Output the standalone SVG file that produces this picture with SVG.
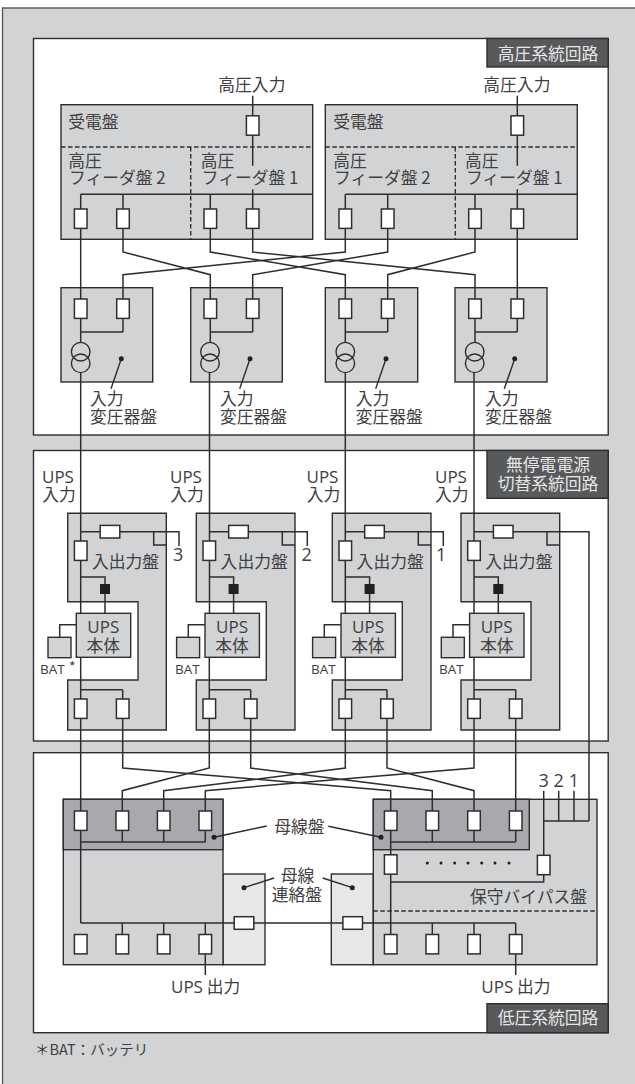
<svg xmlns="http://www.w3.org/2000/svg" width="635" height="1084" viewBox="0 0 635 1084">
<style>
text{font-family:"Noto Sans CJK JP","Noto Sans",sans-serif;font-size:16.8px;font-weight:400;fill:#404042}
.m{text-anchor:middle}
.h{fill:#e6e7e8}
.s{font-size:14px}
.u{font-family:"Open Sans","Noto Sans",sans-serif;font-size:17px}
.n{font-family:"Open Sans","Noto Sans",sans-serif;font-size:18px}
.sec{fill:#fff;stroke:#2e2e30;stroke-width:1.4}
.lab{fill:#58595b;stroke:#2e2e30;stroke-width:1.4}
.p{fill:#d1d3d4;stroke:#2e2e30;stroke-width:1.4}
.d{fill:#a7a9ac;stroke:#2e2e30;stroke-width:1.4}
.l{fill:#e6e7e8;stroke:#2e2e30;stroke-width:1.4}
.w{fill:none;stroke:#2e2e30;stroke-width:1.5}
.t{fill:none;stroke:#2e2e30;stroke-width:1.4}
.da{fill:none;stroke:#2e2e30;stroke-width:1.4;stroke-dasharray:4.5 2.5}
.b{fill:#fff;stroke:#2e2e30;stroke-width:1.5}
.k{fill:#231f20}
</style>
<defs>
<rect id="bv" class="b" x="-6.3" y="-9.7" width="12.6" height="19.4"/>
<rect id="bh" class="b" x="-9.8" y="-6.3" width="19.6" height="12.6"/>
</defs>
<rect x="0" y="0" width="635" height="1084" fill="#fff"/>
<rect x="2.5" y="8" width="640" height="1090" fill="#d1d3d4" stroke="#58595b" stroke-width="1.4"/>
<g id="section-high">
<rect class="sec" x="33.5" y="38.5" width="574.7" height="396.5"/>
<rect class="lab" x="487" y="38.5" width="121.2" height="28.5"/>
<text class="h m" x="548" y="59.5">高圧系統回路</text>
</g>
<g id="section-ups">
<rect class="sec" x="33.5" y="450.5" width="574.7" height="290.5"/>
<rect class="lab" x="487" y="450.5" width="121.2" height="47.8"/>
<text class="h m" x="548" y="471">無停電電源</text>
<text class="h m" x="548" y="490">切替系統回路</text>
</g>
<g id="section-low">
<rect class="sec" x="33.5" y="752.7" width="574.7" height="280"/>
<rect class="lab" x="487" y="1003.7" width="121.2" height="29"/>
<text class="h m" x="548" y="1024">低圧系統回路</text>
</g>
<g id="panel-rx-a">
<rect class="p" x="61" y="104.7" width="251.7" height="134.6"/>
<path class="da" d="M61 147H312.7M190.7 147V239.3"/>
<text x="68.3" y="127.7">受電盤</text>
<text x="68.3" y="166.7">高圧</text>
<text x="69" y="184">フィーダ盤 2</text>
<text x="200.7" y="166.7">高圧</text>
<text x="201.7" y="184">フィーダ盤 1</text>
</g>
<g id="panel-rx-b">
<rect class="p" x="325.3" y="104.7" width="252" height="134.6"/>
<path class="da" d="M325.3 147H577.3M455.3 147V239.3"/>
<text x="333.3" y="127.7">受電盤</text>
<text x="333.3" y="166.7">高圧</text>
<text x="334" y="184">フィーダ盤 2</text>
<text x="465" y="166.7">高圧</text>
<text x="466" y="184">フィーダ盤 1</text>
</g>
<text x="218.3" y="90.7">高圧入力</text>
<text x="483.3" y="90.7">高圧入力</text>
<g id="panel-tr-1"><rect class="p" x="61" y="287.7" width="91.7" height="94.3"/><text x="90" y="405">入力</text><text x="90" y="422.7">変圧器盤</text></g>
<g id="panel-tr-2"><rect class="p" x="190.7" y="287.7" width="91.6" height="94.3"/><text x="220" y="405">入力</text><text x="220" y="422.7">変圧器盤</text></g>
<g id="panel-tr-3"><rect class="p" x="325.3" y="287.7" width="92.4" height="94.3"/><text x="355.7" y="405">入力</text><text x="355.7" y="422.7">変圧器盤</text></g>
<g id="panel-tr-4"><rect class="p" x="455" y="287.7" width="92" height="94.3"/><text x="485" y="405">入力</text><text x="485" y="422.7">変圧器盤</text></g>
<g id="panel-ups-1"><path class="p" d="M67.7 513.3H166.3V730H67.7V680H138V601.7H67.7Z"/><text x="92" y="568">入出力盤</text><text class="u" x="42" y="483">UPS</text><text x="42.3" y="501">入力</text><text class="n" x="173" y="561">3</text></g>
<g id="panel-ups-2"><path class="p" d="M196.3 513.3H295V730H196.3V680H266.3V601.7H196.3Z"/><text x="220.6" y="568">入出力盤</text><text class="u" x="170" y="483">UPS</text><text x="170.3" y="501">入力</text><text class="n" x="301.6" y="561">2</text></g>
<g id="panel-ups-3"><path class="p" d="M332.3 513.3H431V730H332.3V680H402.3V601.7H332.3Z"/><text x="356.6" y="568">入出力盤</text><text class="u" x="306.5" y="483">UPS</text><text x="306.7" y="501">入力</text><text class="n" x="436" y="561">1</text></g>
<g id="panel-ups-4"><path class="p" d="M461 513.3H559.7V730H461V680H531V601.7H461Z"/><text x="485.3" y="568">入出力盤</text><text class="u" x="435" y="483">UPS</text><text x="435" y="501">入力</text></g>
<g id="panel-bus-left">
<rect class="l" x="223" y="874" width="42" height="90.7"/>
<rect class="p" x="63.3" y="799.3" width="159.7" height="165.4"/>
<rect class="d" x="63.3" y="799.3" width="159.7" height="50.4"/>
</g>
<g id="panel-bus-right">
<rect class="l" x="331.3" y="874" width="42" height="90.7"/>
<rect class="p" x="373.3" y="799.3" width="223.7" height="165.4"/>
<rect class="d" x="373.3" y="799.3" width="156" height="50.4"/>
<path class="da" d="M373.3 911H597"/>
<text x="470" y="902.7">保守バイパス盤</text>
</g>
<g id="connectors">
<path class="w" d="M252.7 95.7V165.7M252.7 189.3V194.3M517.3 95.7V165.7M517.3 189.3V194.3M80.7 194.3H312.7M345.3 194.3H577.3"/>
<path class="w" d="M80.7 194.3V342.4M123 194.3V252L210.3 274.7V342.4M210.3 194.3V252L345.3 274.7V342.4M252.7 194.3V252L475 274.7V342.4M345.3 194.3V252L123 274.7V332M387.7 194.3V252L252.7 274.7V332M475 194.3V252L387.7 274.7V332M517.3 194.3V332"/>
<path class="w" d="M80.7 332H123M210.3 332H252.7M345.3 332H387.7M475 332H517.3"/>
<path class="w" d="M80.7 372.6V613.3M209.5 372.6V613.3M345.3 372.6V613.3M474 372.6V613.3"/>
<path class="w" d="M80.7 531.7H179V546M153.7 531.7V545H166.3M209.3 531.7H307.3V546M282.3 531.7V545H295M345.3 531.7H443.3V546M418.3 531.7V545H431M474 531.7H589V821M547 531.7V545H559.7"/>
<path class="w" d="M80.7 577H105V613.3M209.3 577H233.6V613.3M345.3 577H369.6V613.3M474 577H498.3V613.3"/>
<path class="w" d="M76.3 624.7H59.7V637.3M205 624.7H188.3V637.3M341 624.7H324.3V637.3M469.6 624.7H453V637.3"/>
<path class="w" d="M80.7 689.7H122.7M209.3 689.7H250.7M345.3 689.7H387M474 689.7H515.7"/>
<path class="w" d="M80.7 657.3V923M122.7 689.7V768L390.7 790.7V934M209.3 657.3V768L122.3 790.7V842M250.7 689.7V768L432.3 790.7V842M345.3 657.3V768L163.7 790.7V842M387 689.7V768L474 790.7V842M474 657.3V768L205.3 790.7V842M515.7 689.7V842"/>
<path class="w" d="M80.7 842H205.3M390.7 842H515.7M80.7 923H515.7M122.3 923V934M163.7 923V934M205.3 923V975M432.3 923V934M474 923V934M515.7 923V975"/>
<path class="w" d="M589 821H543.7V882H390.7M558.7 821V790.7M574 821V790.7M543.7 821V790.7"/>
<path class="t" d="M121.3 358.7L111 388.7M250 358.7L239.7 388.7M386 358.7L375.7 388.7M514.7 358.7L504.3 388.7M214 837.3L266.7 826M328.3 826.3L381 837.3M244 887.7L274 878M322.7 878L352.3 887.7"/>
</g>
<g id="devices">
<use href="#bv" x="252.7" y="125.5"/><use href="#bv" x="517.3" y="125.5"/>
<use href="#bv" x="80.7" y="218.7"/><use href="#bv" x="123" y="218.7"/><use href="#bv" x="210.3" y="218.7"/><use href="#bv" x="252.7" y="218.7"/>
<use href="#bv" x="345.3" y="218.7"/><use href="#bv" x="387.7" y="218.7"/><use href="#bv" x="475" y="218.7"/><use href="#bv" x="517.3" y="218.7"/>
<use href="#bv" x="80.7" y="308.7"/><use href="#bv" x="123" y="308.7"/><use href="#bv" x="210.3" y="308.7"/><use href="#bv" x="252.7" y="308.7"/>
<use href="#bv" x="345.3" y="308.7"/><use href="#bv" x="387.7" y="308.7"/><use href="#bv" x="475" y="308.7"/><use href="#bv" x="517.3" y="308.7"/>
<g class="t">
<circle cx="80.7" cy="351.7" r="9.3"/><circle cx="80.7" cy="363.3" r="9.3"/>
<circle cx="210" cy="351.7" r="9.3"/><circle cx="210" cy="363.3" r="9.3"/>
<circle cx="345.3" cy="351.7" r="9.3"/><circle cx="345.3" cy="363.3" r="9.3"/>
<circle cx="474.7" cy="351.7" r="9.3"/><circle cx="474.7" cy="363.3" r="9.3"/>
</g>
<g class="k">
<circle cx="121.3" cy="358.7" r="2.5"/><circle cx="250" cy="358.7" r="2.5"/><circle cx="386" cy="358.7" r="2.5"/><circle cx="514.7" cy="358.7" r="2.5"/>
<circle cx="214" cy="837.3" r="2.5"/><circle cx="381" cy="837.3" r="2.5"/><circle cx="244" cy="887.7" r="2.5"/><circle cx="352.3" cy="887.7" r="2.5"/>
<rect x="100" y="584" width="10" height="10"/><rect x="228.6" y="584" width="10" height="10"/><rect x="364.6" y="584" width="10" height="10"/><rect x="493.3" y="584" width="10" height="10"/>
<circle cx="427.3" cy="863" r="1.5"/><circle cx="441" cy="863" r="1.5"/><circle cx="454.7" cy="863" r="1.5"/><circle cx="468" cy="863" r="1.5"/><circle cx="481.7" cy="863" r="1.5"/><circle cx="495" cy="863" r="1.5"/><circle cx="509" cy="863" r="1.5"/>
</g>
<use href="#bh" x="110" y="531.7"/><use href="#bh" x="238.5" y="531.7"/><use href="#bh" x="374.5" y="531.7"/><use href="#bh" x="503.2" y="531.7"/>
<use href="#bv" x="80.7" y="550.7"/><use href="#bv" x="209.3" y="550.7"/><use href="#bv" x="345.3" y="550.7"/><use href="#bv" x="474" y="550.7"/>
<use href="#bv" x="80.7" y="708.7"/><use href="#bv" x="122.7" y="708.7"/><use href="#bv" x="209.3" y="708.7"/><use href="#bv" x="250.7" y="708.7"/>
<use href="#bv" x="345.3" y="708.7"/><use href="#bv" x="387" y="708.7"/><use href="#bv" x="474" y="708.7"/><use href="#bv" x="515.7" y="708.7"/>
<use href="#bv" x="80.7" y="820.7"/><use href="#bv" x="122.3" y="820.7"/><use href="#bv" x="163.7" y="820.7"/><use href="#bv" x="205.3" y="820.7"/>
<use href="#bv" x="390.7" y="820.7"/><use href="#bv" x="432.3" y="820.7"/><use href="#bv" x="474" y="820.7"/><use href="#bv" x="515.7" y="820.7"/>
<use href="#bv" x="390.7" y="864.5"/><use href="#bv" x="543.7" y="865"/>
<use href="#bv" x="80.7" y="944.2"/><use href="#bv" x="122.3" y="944.2"/><use href="#bv" x="163.7" y="944.2"/><use href="#bv" x="205.3" y="944.2"/>
<use href="#bv" x="390.7" y="944.2"/><use href="#bv" x="432.3" y="944.2"/><use href="#bv" x="474" y="944.2"/><use href="#bv" x="515.7" y="944.2"/>
<use href="#bh" x="244" y="923"/><use href="#bh" x="352.7" y="923"/>
</g>
<g id="ups-1"><rect class="p" x="76.3" y="613.3" width="54.4" height="44"/><rect class="p" x="48" y="637.3" width="23" height="20.4"/><text class="m u" x="103.3" y="633">UPS</text><text class="m" x="103.3" y="651.7">本体</text><text class="u" style="font-size:13.5px" x="40" y="674">BAT</text><text class="s" x="69" y="672">*</text></g>
<g id="ups-2"><rect class="p" x="205" y="613.3" width="54.4" height="44"/><rect class="p" x="176.6" y="637.3" width="23" height="20.4"/><text class="m u" x="232" y="633">UPS</text><text class="m" x="232" y="651.7">本体</text><text class="u" style="font-size:13.5px" x="175" y="674">BAT</text></g>
<g id="ups-3"><rect class="p" x="341" y="613.3" width="54.4" height="44"/><rect class="p" x="312.6" y="637.3" width="23" height="20.4"/><text class="m u" x="368" y="633">UPS</text><text class="m" x="368" y="651.7">本体</text><text class="u" style="font-size:13.5px" x="311" y="674">BAT</text></g>
<g id="ups-4"><rect class="p" x="469.6" y="613.3" width="54.4" height="44"/><rect class="p" x="441.3" y="637.3" width="23" height="20.4"/><text class="m u" x="496.7" y="633">UPS</text><text class="m" x="496.7" y="651.7">本体</text><text class="u" style="font-size:13.5px" x="439" y="674">BAT</text></g>
<text class="m n" x="543.7" y="786.7">3</text><text class="m n" x="558.7" y="786.7">2</text><text class="m n" x="574" y="786.7">1</text>
<text x="274.3" y="832.7">母線盤</text>
<text x="280.7" y="882.3">母線</text>
<text x="271.7" y="900.7">連絡盤</text>
<text x="171" y="993"><tspan class="u">UPS</tspan> 出力</text>
<text x="481.3" y="993"><tspan class="u">UPS</tspan> 出力</text>
<text x="35" y="1055" style="font-size:14.5px">＊BAT：バッテリ</text>
</svg>
